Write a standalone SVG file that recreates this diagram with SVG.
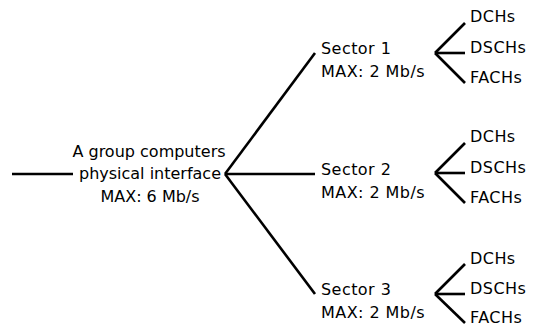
<svg xmlns="http://www.w3.org/2000/svg" width="540" height="327" viewBox="0 0 540 327">
<style>
text{font-family:"DejaVu Sans","Liberation Sans",sans-serif;font-size:16px;fill:#000}
.c{text-anchor:middle}
.s{letter-spacing:0.45px}
line{stroke:#000;stroke-width:2.6;stroke-linecap:butt}
</style>
<rect width="540" height="327" fill="#fff"/>
<g id="connectors">
<line x1="12" y1="174" x2="73" y2="174"/>
<line x1="225" y1="174" x2="315" y2="53"/>
<line x1="225" y1="174" x2="315" y2="174"/>
<line x1="225" y1="174" x2="315" y2="294"/>
<line x1="435" y1="53" x2="465" y2="23"/>
<line x1="435" y1="53" x2="465" y2="53"/>
<line x1="435" y1="53" x2="465" y2="83"/>
<line x1="435" y1="173" x2="465" y2="143"/>
<line x1="435" y1="173" x2="465" y2="173"/>
<line x1="435" y1="173" x2="465" y2="203"/>
<line x1="435" y1="294" x2="465" y2="264"/>
<line x1="435" y1="294" x2="465" y2="294"/>
<line x1="435" y1="294" x2="465" y2="323"/>
</g>
<g id="main">
<text class="c" x="149" y="157">A group computers</text>
<text class="c" x="150" y="179">physical interface</text>
<text class="c" x="150" y="202">MAX: 6 Mb/s</text>
</g>
<g id="sector1" class="s">
<text class="s" x="321" y="54">Sector 1</text>
<text class="s" x="321" y="77">MAX: 2 Mb/s</text>
</g>
<g id="sector2">
<text class="s" x="321" y="175">Sector 2</text>
<text class="s" x="321" y="198">MAX: 2 Mb/s</text>
</g>
<g id="sector3">
<text class="s" x="321" y="295">Sector 3</text>
<text class="s" x="321" y="318">MAX: 2 Mb/s</text>
</g>
<g id="ch1">
<text class="s" x="470" y="22">DCHs</text>
<text class="s" x="470" y="53">DSCHs</text>
<text class="s" x="470" y="83">FACHs</text>
</g>
<g id="ch2">
<text class="s" x="470" y="142">DCHs</text>
<text class="s" x="470" y="173">DSCHs</text>
<text class="s" x="470" y="203">FACHs</text>
</g>
<g id="ch3">
<text class="s" x="470" y="264">DCHs</text>
<text class="s" x="470" y="294">DSCHs</text>
<text class="s" x="470" y="323">FACHs</text>
</g>
</svg>
